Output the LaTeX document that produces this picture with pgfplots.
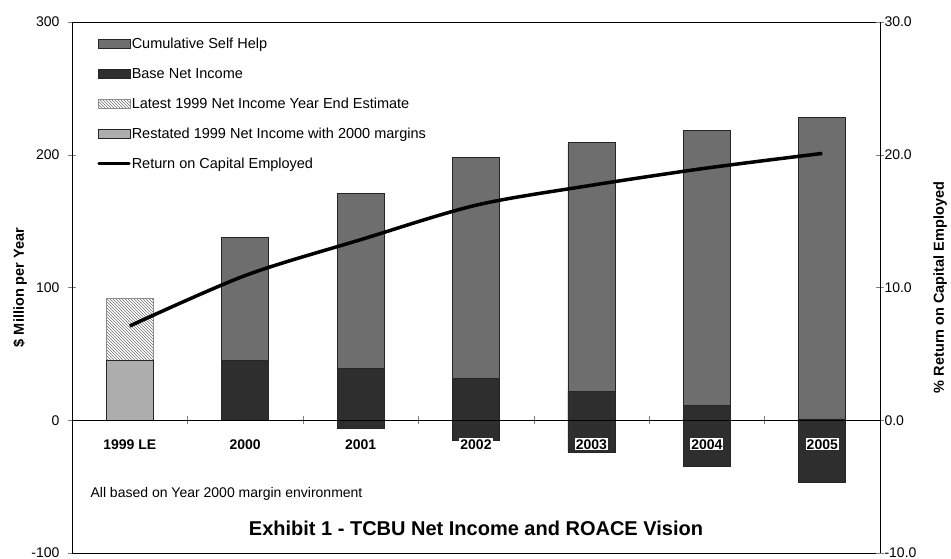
\documentclass[border=0pt]{standalone}
\usepackage{fontspec}
\setmainfont{Liberation Sans}
\usepackage{pgfplots}
\pgfplotsset{compat=1.18}
\usetikzlibrary{patterns}

\definecolor{selfhelp}{gray}{0.43}
\definecolor{basenet}{gray}{0.18}
\definecolor{restated}{gray}{0.68}

\pgfplotsset{
  barleg/.style={legend image code/.code={\draw[##1] (0pt,-4.5pt) rectangle (32pt,4.5pt);}},
  lineleg/.style={legend image code/.code={\draw[##1, line cap=round] (1pt,0pt) -- (31pt,0pt);}},
  onebar/.style={ybar, bar width=47pt, bar shift=0pt, draw=black!85, line width=0.8pt, barleg},
}

\begin{document}
\begin{tikzpicture}[font=\fontsize{14.5}{17}\selectfont]
\path[use as bounding box] (-72pt,-5pt) rectangle (879pt,553pt);

% left axis: $ million per year, bars
\begin{axis}[
  scale only axis, width=808pt, height=531pt,
  xmin=-0.5, xmax=6.5, ymin=-100, ymax=300,
  xtick=\empty,
  ytick={-100,0,100,200,300},
  ytick pos=left,
  tick align=center,
  major tick length=8pt,
  axis line style={line width=0.9pt},
  /pgf/number format/assume math mode=true,
  yticklabel style={font=\fontsize{14}{16}\selectfont, xshift=-5pt},
  ylabel={\$ Million per Year},
  ylabel style={at={(rel axis cs:0,0.5)}, anchor=center, yshift=52pt, font=\bfseries\fontsize{14.5}{17}\selectfont},
  title={Exhibit 1 - TCBU Net Income and ROACE Vision},
  title style={at={(0.5,0.036)}, anchor=center, font=\bfseries\fontsize{20}{24}\selectfont},
  legend style={at={(0.031,0.972)}, anchor=north west, draw=none, fill=none, inner sep=0pt,
    row sep=16pt, nodes={inner sep=1pt}, cells={anchor=west}},
]
\addplot[onebar, fill=selfhelp] coordinates {(1,137.5) (2,171) (3,198) (4,209) (5,218) (6,228)};
\addlegendentry{Cumulative Self Help}
\addplot[onebar, fill=basenet] coordinates {(1,45) (2,39) (3,31.5) (4,22) (5,11) (6,1)};
\addlegendentry{Base Net Income}
\addplot[onebar, fill=basenet, forget plot] coordinates {(2,-6) (3,-15) (4,-24) (5,-34.5) (6,-46.5)};
\addplot[onebar, draw=black!45, fill=white, postaction={pattern=north west lines, pattern color=black!55}] coordinates {(0,92)};
\addlegendentry{Latest 1999 Net Income Year End Estimate}
\addplot[onebar, fill=restated] coordinates {(0,45)};
\addlegendentry{Restated 1999 Net Income with 2000 margins}
\addlegendimage{black, line width=3.5pt, lineleg}
\addlegendentry{Return on Capital Employed}

\node[anchor=west, font=\fontsize{14}{16}\selectfont] at (rel axis cs:0.0186,0.111) {All based on Year 2000 margin environment};
\end{axis}

% right axis: ROACE, plus zero line with category labels
\begin{axis}[
  scale only axis, width=808pt, height=531pt,
  xmin=-0.5, xmax=6.5, ymin=-10, ymax=30,
  axis x line=middle, axis y line*=right,
  axis line style={-, line width=0.9pt},
  x axis line style={line width=0.7pt},
  hide obscured x ticks=false, hide obscured y ticks=false,
  tick align=center,
  major tick length=8pt,
  xtick={0.5,1.5,2.5,3.5,4.5,5.5},
  xticklabels={},
  extra x ticks={0,1,2,3,4,5,6},
  extra x tick labels={1999 LE,2000,2001,2002,2003,2004,2005},
  extra x tick style={major tick length=0pt,
    tick label style={fill=white, inner sep=1pt, yshift=-18pt, font=\bfseries\fontsize{14}{16}\selectfont}},
  ytick={-10,0,10,20,30},
  /pgf/number format/assume math mode=true,
  yticklabel style={font=\fontsize{14}{16}\selectfont, xshift=-3pt, /pgf/number format/.cd, fixed, fixed zerofill, precision=1},
  ylabel={\% Return on Capital Employed},
  ylabel style={at={(rel axis cs:1,0.5)}, anchor=center, yshift=-60pt, font=\bfseries\fontsize{14.5}{17}\selectfont},
]
\addplot[black, line width=3.5pt, smooth, tension=0.5] coordinates {
(0,7.1) (1,10.9) (2,13.6) (3,16.2) (4,17.7) (5,19.0) (6,20.1)
};
\end{axis}
\end{tikzpicture}
\end{document}
